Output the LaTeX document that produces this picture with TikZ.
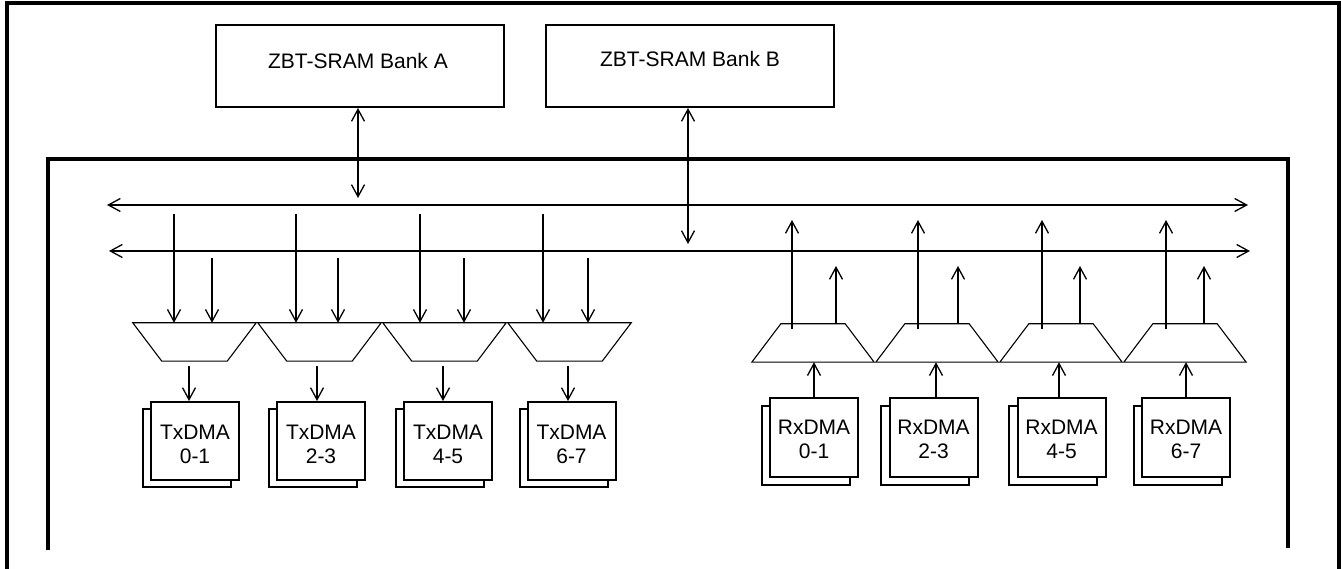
\documentclass[tikz,border=0pt]{standalone}
\usepackage{fontspec}
\setmainfont{Liberation Sans}
\usetikzlibrary{arrows.meta}
\begin{document}
\begin{tikzpicture}[x=1pt,y=-1pt,line join=miter,
  tipb/.tip={Straight Barb[length=12pt,width=13pt,line width=1.3pt]},
  arr/.style={line width=2pt,-tipb},
  darr/.style={line width=2pt,tipb-tipb},
  frame/.style={line width=3.3pt},
  sram/.style={draw,line width=2pt,minimum width=288pt,minimum height=82pt,inner sep=0pt},
  lbl/.style={inner sep=0pt,font=\fontsize{21}{24}\selectfont},
  dmatext/.style={inner sep=0pt,align=center,font=\fontsize{21}{24}\selectfont},
  dma/.style={draw,fill=white,line width=2pt,minimum width=88pt,minimum height=78pt,inner sep=0pt},
  muxbb/.style={minimum width=123pt,minimum height=38pt,inner sep=0pt},
  mux/.style={line width=1.1pt}]
\useasboundingbox (0,0) rectangle (1342,569);
% frames
\draw[frame] (7,569) -- (7,3) -- (1339,3) -- (1339,569);
\draw[frame] (48,550) -- (48,159) -- (1288,159) -- (1288,548);
% SRAM banks
\node[sram] (bankA) at (360,66) {};
\node[lbl,anchor=base] (bankAt) at (358,69) {ZBT-SRAM Bank A};
\node[sram] (bankB) at (690,66) {};
\node[lbl,anchor=base] (bankBt) at (690,67) {ZBT-SRAM Bank B};
% buses
\coordinate (b1l) at (107,205); \coordinate (b1r) at (1248,205);
\coordinate (b2l) at (109,251); \coordinate (b2r) at (1250,251);
\draw[darr] (b1l) -- (b1r);
\draw[darr] (b2l) -- (b2r);
\coordinate (aA) at (358,198);
\coordinate (aB) at (688,244);
\draw[darr] (aA |- bankA.south) -- (aA);
\draw[darr] (aB |- bankB.south) -- (aB);
% Tx side
\foreach \i/\cx/\lx/\sx/\ox/\bx/\lab in {1/194.5/174/212/189/195/0-1, 2/319.5/296/338/317/321/2-3, 3/444.5/420/464/443/448/4-5, 4/569.5/543/588/568/571.5/6-7} {
  \node[muxbb] (tm\i) at (\cx,342) {};
  \draw[mux] (tm\i.north west) -- (tm\i.north east) -- ([xshift=-29pt]tm\i.south east) -- ([xshift=29pt]tm\i.south west) -- cycle;
  \coordinate (tl\i) at (\lx,214);
  \coordinate (ts\i) at (\sx,258);
  \coordinate (to\i) at (\ox,366);
  \draw[arr] (tl\i) -- (tl\i |- tm\i.north);
  \draw[arr] (ts\i) -- (ts\i |- tm\i.north);
  \node[dma] (tdb\i) at (\bx-8,448) {};
  \node[dma] (td\i) at (\bx,441) {};
  \node[dmatext] (tdt\i) at (\bx,444) {TxDMA\\\lab};
  \draw[arr] (to\i) -- (to\i |- td\i.north);
}
% Rx side
\foreach \i/\cx/\lx/\sx/\ix/\bx/\lab in {1/813/792/836/814/814/0-1, 2/937/918/958/936/933.5/2-3, 3/1061/1042/1080/1059/1061.5/4-5, 4/1185/1166/1204/1186/1186/6-7} {
  \node[muxbb,minimum width=122pt] (rm\i) at (\cx,343) {};
  \draw[mux] (rm\i.south west) -- (rm\i.south east) -- ([xshift=-29pt]rm\i.north east) -- ([xshift=29pt]rm\i.north west) -- cycle;
  \coordinate (rl\i) at (\lx,220);
  \coordinate (rlb\i) at (\lx,329);
  \coordinate (rs\i) at (\sx,266);
  \draw[arr] (rlb\i) -- (rl\i);
  \draw[arr] (rs\i |- rm\i.north) -- (rs\i);
  \node[dma,minimum height=79pt] (rdb\i) at (\bx-8.5,445.5) {};
  \node[dma,minimum height=79pt] (rd\i) at (\bx,437.5) {};
  \node[dmatext] (rdt\i) at (\bx,439.5) {RxDMA\\\lab};
  \coordinate (ri\i) at (\ix,0);
  \draw[arr] (ri\i |- rd\i.north) -- (ri\i |- rm\i.south);
}
\end{tikzpicture}
\end{document}
